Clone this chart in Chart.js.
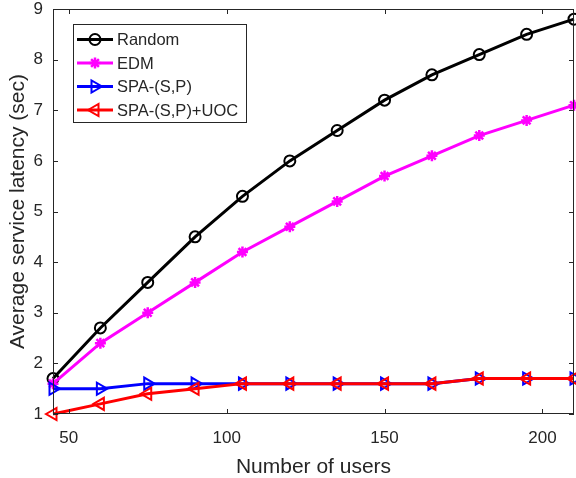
<!DOCTYPE html>
<html>
<head>
<meta charset="utf-8">
<script src="https://cdn.jsdelivr.net/npm/chart.js@4"></script>
<style>
  html, body { margin: 0; padding: 0; background: #fff; }
  #wrap { width: 576px; height: 478px; }
</style>
</head>
<body>
<div id="wrap"><canvas id="chart" width="576" height="478"></canvas></div>
<script>
const users = [45, 60, 75, 90, 105, 120, 135, 150, 165, 180, 195, 210];
const randomLat = [1.7, 2.7, 3.6, 4.5, 5.3, 6.0, 6.6, 7.2, 7.7, 8.1, 8.5, 8.8];
const edmLat = [1.6, 2.4, 3.0, 3.6, 4.2, 4.7, 5.2, 5.7, 6.1, 6.5, 6.8, 7.1];
const spaLat = [1.5, 1.5, 1.6, 1.6, 1.6, 1.6, 1.6, 1.6, 1.6, 1.7, 1.7, 1.7];
const spaUocLat = [1.0, 1.2, 1.4, 1.5, 1.6, 1.6, 1.6, 1.6, 1.6, 1.7, 1.7, 1.7];
const xTicks = [50, 100, 150, 200];
const yTicks = [1, 2, 3, 4, 5, 6, 7, 8, 9];

const textColor = '#262626';
const fontFam = 'Arial, "Liberation Sans", Helvetica, sans-serif';

function pts(ys) {
  return users.map((x, i) => ({ x: x, y: ys[i] }));
}

const series = [
  { label: 'Random', data: randomLat, color: '#000000', style: 'circle', radius: 5.5, rot: 0, bw: 2 },
  { label: 'EDM', data: edmLat, color: '#ff00ff', style: 'star', radius: 5.5, rot: 0, bw: 2.5 },
  { label: 'SPA-(S,P)', data: spaLat, color: '#0000ff', style: 'triangle', radius: 7, rot: 90, bw: 2 },
  { label: 'SPA-(S,P)+UOC', data: spaUocLat, color: '#ff0000', style: 'triangle', radius: 7, rot: -90, bw: 2 }
];

// frame, inward ticks and the legend box, drawn like matlab does
const matlabBox = {
  id: 'matlabBox',
  afterDatasetsDraw(chart) {
    const ctx = chart.ctx;
    const a = chart.chartArea;
    const xs = chart.scales.x, ys = chart.scales.y;
    ctx.save();
    ctx.strokeStyle = textColor;
    ctx.lineWidth = 1;
    ctx.strokeRect(a.left + 0.5, a.top + 0.5, a.right - a.left - 1, a.bottom - a.top - 1);
    ctx.beginPath();
    xTicks.forEach(v => {
      const px = Math.round(xs.getPixelForValue(v)) + 0.5;
      ctx.moveTo(px, a.bottom); ctx.lineTo(px, a.bottom - 5);
      ctx.moveTo(px, a.top); ctx.lineTo(px, a.top + 5);
    });
    yTicks.forEach(v => {
      const py = Math.round(ys.getPixelForValue(v)) + 0.5;
      ctx.moveTo(a.left, py); ctx.lineTo(a.left + 5, py);
      ctx.moveTo(a.right, py); ctx.lineTo(a.right - 5, py);
    });
    ctx.stroke();

    // legend
    const lx = 73, ly = 24, lw = 173, lh = 98;
    ctx.fillStyle = '#fff';
    ctx.fillRect(lx, ly, lw, lh);
    ctx.strokeStyle = textColor;
    ctx.strokeRect(lx + 0.5, ly + 0.5, lw, lh);
    ctx.font = '16.5px ' + fontFam;
    ctx.textBaseline = 'middle';
    series.forEach((s, i) => {
      const cy = ly + 15.5 + i * 23.5;
      ctx.strokeStyle = s.color;
      ctx.lineWidth = 3;
      ctx.beginPath();
      ctx.moveTo(lx + 4, cy); ctx.lineTo(lx + 40, cy);
      ctx.stroke();
      ctx.lineWidth = s.bw;
      ctx.fillStyle = s.style === 'star' ? s.color : 'rgba(0,0,0,0)';
      Chart.helpers.drawPoint(ctx, { pointStyle: s.style, radius: s.radius, rotation: s.rot, borderWidth: s.bw }, lx + 22, cy);
      ctx.fillStyle = textColor;
      ctx.fillText(s.label, lx + 44, cy + 1);
    });
    ctx.restore();
  }
};

new Chart(document.getElementById('chart'), {
  type: 'line',
  data: {
    datasets: series.map(s => ({
      label: s.label,
      data: pts(s.data),
      borderColor: s.color,
      backgroundColor: s.style === 'star' ? s.color : 'rgba(0,0,0,0)',
      borderWidth: 3,
      pointStyle: s.style,
      pointRadius: s.radius,
      pointRotation: s.rot,
      pointBorderWidth: s.bw,
      pointBorderColor: s.color,
      pointBackgroundColor: s.style === 'star' ? s.color : 'rgba(0,0,0,0)',
      tension: 0,
      clip: false
    })).reverse()
  },
  options: {
    responsive: false,
    animation: false,
    layout: { autoPadding: false, padding: { top: 9, right: 2, left: 0, bottom: 0 } },
    plugins: { legend: { display: false }, tooltip: { enabled: false } },
    scales: {
      x: {
        type: 'linear',
        min: 45,
        max: 210,
        afterBuildTicks: sc => { sc.ticks = xTicks.map(v => ({ value: v })); },
        afterFit: sc => { sc.height = 64; sc.paddingLeft = 0; sc.paddingRight = 0; },
        grid: { display: false, drawTicks: false, tickLength: 0 },
        border: { display: false },
        ticks: { color: textColor, font: { size: 17, family: fontFam }, padding: 14 },
        title: { display: true, text: 'Number of users', color: textColor, font: { size: 21, family: fontFam, lineHeight: 1 }, padding: { top: 0, bottom: 0 } }
      },
      y: {
        min: 1,
        max: 9,
        afterBuildTicks: sc => { sc.ticks = yTicks.map(v => ({ value: v })); },
        afterFit: sc => { sc.width = 53; sc.paddingTop = 0; sc.paddingBottom = 0; },
        grid: { display: false, drawTicks: false, tickLength: 0 },
        border: { display: false },
        ticks: { color: textColor, font: { size: 17, family: fontFam }, padding: 10 },
        title: { display: true, text: 'Average service latency (sec)', color: textColor, font: { size: 21, family: fontFam, lineHeight: 1 }, padding: { top: 8, bottom: 0 } }
      }
    }
  },
  plugins: [matlabBox]
});
</script>
</body>
</html>
